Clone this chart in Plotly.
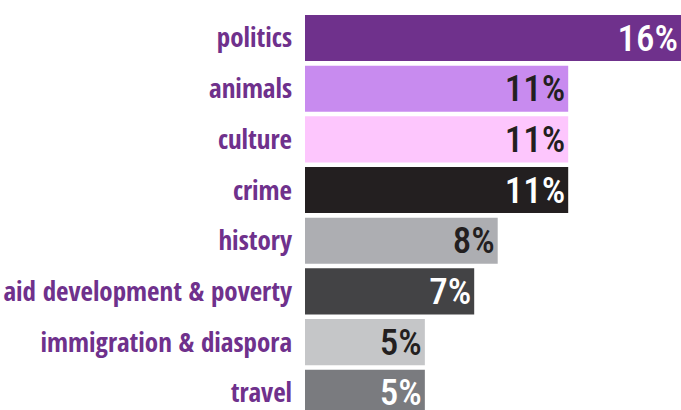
import plotly.graph_objects as go

categories = ["politics", "animals", "culture", "crime", "history",
              "aid development & poverty", "immigration & diaspora", "travel"]
values = [16.0, 11.2, 11.2, 11.2, 8.2, 7.2, 5.1, 5.1]
labels = ["16%", "11%", "11%", "11%", "8%", "7%", "5%", "5%"]
bar_colors = ["#6F318C", "#C88BEF", "#FDC6FD", "#231F20", "#ADAEB2",
              "#434345", "#C5C6C8", "#7A7B7F"]
text_colors = ["#FFFFFF", "#231F20", "#231F20", "#FFFFFF", "#231F20",
               "#FFFFFF", "#231F20", "#FFFFFF"]

FONT = "Open Sans Condensed, Roboto Condensed, DejaVu Sans Condensed, sans-serif"
NUM_FONT = "Roboto Condensed, Open Sans Condensed, DejaVu Sans Condensed, sans-serif"

fig = go.Figure(go.Bar(
    x=values, y=categories, orientation="h",
    marker=dict(color=bar_colors, line=dict(width=0)),
    text=labels, textposition="inside", insidetextanchor="end",
    textangle=0, constraintext="none",
    textfont=dict(family=NUM_FONT, size=37, color=text_colors, weight=500),
    hoverinfo="skip",
))

fig.update_layout(
    width=681, height=410,
    margin=dict(l=305, r=0, t=0, b=0, autoexpand=False),
    paper_bgcolor="white", plot_bgcolor="white",
    bargap=0.09, showlegend=False,
    xaxis=dict(range=[0, 16], visible=False, fixedrange=True, automargin=False),
    yaxis=dict(type="category", range=[7.34, -0.75], showgrid=False,
               zeroline=False, showline=False, ticks="", automargin=False,
               fixedrange=True, ticklabelstandoff=12,
               tickfont=dict(family=FONT, size=27,
                             color="#6F318C", weight="bold")),
)

fig.write_html("out.html", config={"displayModeBar": False},
               post_script="document.body.style.margin='0';")
